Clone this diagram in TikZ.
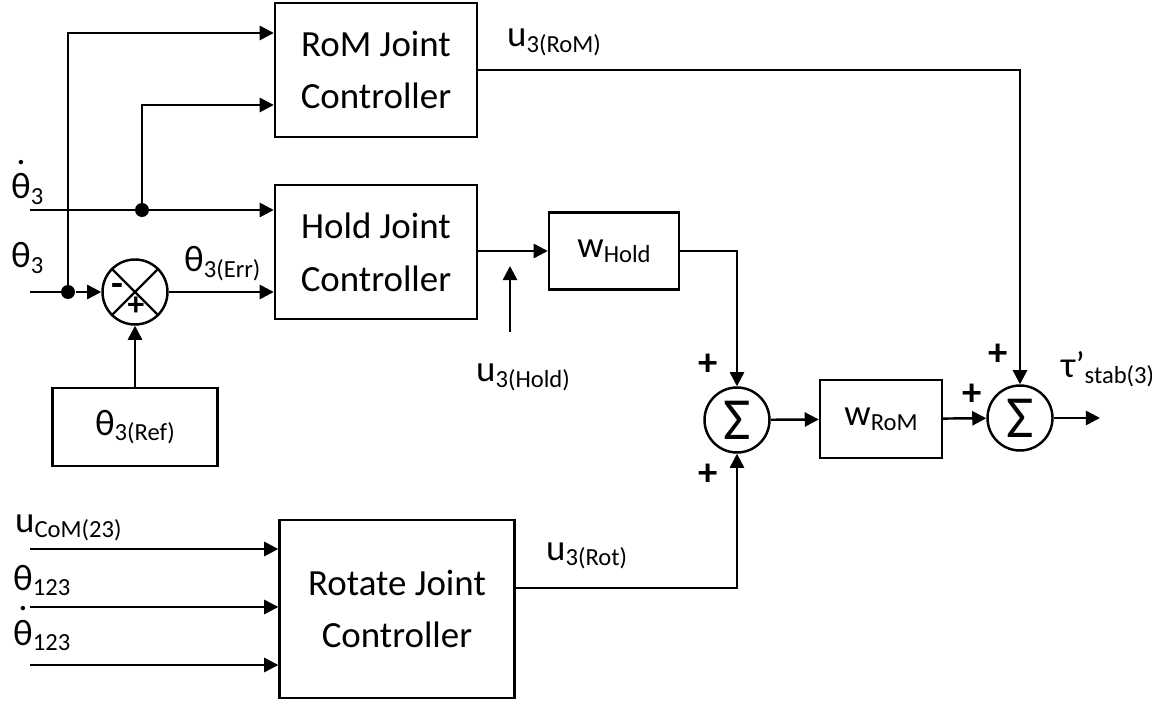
\documentclass[tikz,border=0pt]{standalone}
\usepackage{fontspec}
\setmainfont{Carlito}
\usetikzlibrary{arrows.meta}

\newcommand{\sbs}[1]{\raisebox{-0.14em}{\fontsize{14}{14}\selectfont #1}}
\newcommand{\thdot}{\ooalign{θ\cr\hidewidth\raisebox{0.93em}{.}\hidewidth\cr}}

\begin{document}
\begin{tikzpicture}[
  x=0.02cm, y=-0.02cm, line width=1.4pt,
  >={Triangle[length=8pt, width=8pt]},
  block/.style={rectangle, draw=black, line width=1.4pt, align=center, inner sep=0pt, font=\fontsize{21}{30}\selectfont},
  summer/.style={circle, draw=black, line width=1.4pt, minimum size=1.3cm, inner sep=0pt, font=\fontsize{34}{34}\selectfont},
  junc/.style={circle, fill=black, inner sep=0pt, minimum size=0.28cm},
  lbl/.style={anchor=base west, inner sep=0pt, font=\fontsize{21}{24}\selectfont},
  sgn/.style={inner sep=0pt, font=\fontsize{22}{22}\selectfont\bfseries}
]
\useasboundingbox (0,0) rectangle (1152,705);

% Joint controllers
\node[block, minimum width=4.04cm, minimum height=2.68cm] (rom) at (376,70) {RoM Joint\\Controller};
\node[block, minimum width=4.04cm, minimum height=2.68cm] (hold) at (376,252) {Hold Joint\\Controller};
\node[block, minimum width=4.7cm, minimum height=3.56cm] (rot) at (397,609) {Rotate Joint\\Controller};

% Reference and error junction
\node[block, minimum width=3.3cm, minimum height=1.56cm] (ref) at (135,427) {θ\sbs{3(Ref)}};
\node[summer] (err) at (135,292) {};
\draw[line width=1.4pt] (err.45) -- (err.225) (err.135) -- (err.-45);
\node[sgn] (errminus) at (117,290) {-};
\node[sgn, font=\fontsize{19}{19}\selectfont\bfseries] (errplus) at (136,306) {+};

% Weights and sums
\node[block, minimum width=2.6cm, minimum height=1.54cm] (whold) at (614,251) {w\sbs{Hold}};
\node[summer] (sum1) at (737,420) {Σ};
\node[block, minimum width=2.44cm, minimum height=1.56cm] (wrom) at (881,419) {w\sbs{RoM}};
\node[summer] (sum2) at (1020,418) {Σ};

% Branch points
\node[junc] (j1) at (68,292) {};
\node[junc] (j2) at (142,210) {};

% Free ends
\coordinate (thd) at (30,210);
\coordinate (th) at (30,292);
\coordinate (uhold) at (510,332);
\coordinate (uholdtip) at (510,266);
\coordinate (tauend) at (1100,418);

% Inputs to Hold and RoM
\draw (th) -- (j1.center);
\draw[->] (j1) -- (err);
\draw[->] (j1.center) |- ([yshift=0.74cm]rom.west);
\draw (thd) -- (j2.center);
\draw[->] (j2.center) -- (hold.west |- j2);
\draw[->] (j2.center) |- ([yshift=-0.7cm]rom.west);
\draw[->] (err) -- (hold.west |- err);
\draw[->] (ref) -- (err);

% Hold branch
\draw[->] (hold.east |- whold.west) -- (whold.west);
\draw[->] (uhold) -- (uholdtip);
\draw[->] (whold.east) -| (sum1.north);

% Rotate branch
\foreach \y/\n in {549/1, 607/2, 665/3}{
  \coordinate (in\n) at (30,\y);
  \draw[->] (in\n) -- (rot.west |- in\n);
}
\draw[->] ([yshift=0.42cm]rot.east) -| (sum1.south);

% Output path
\draw[->] (sum1) -- (wrom);
\draw[->] (wrom) -- (sum2);
\draw[->] (rom.east) -| (sum2.north);
\draw[->] (sum2) -- (tauend);

% Labels
\node[lbl] at (10,199) {\thdot\sbs{3}};
\node[lbl] at (10,268) {θ\sbs{3}};
\node[lbl] at (183,272) {θ\sbs{3(Err)}};
\node[lbl] at (506,47) {u\sbs{3(RoM)}};
\node[lbl] at (475,382) {u\sbs{3(Hold)}};
\node[lbl] at (545,560) {u\sbs{3(Rot)}};
\node[lbl] at (14,532) {u\sbs{CoM(23)}};
\node[lbl] at (12,590) {θ\sbs{123}};
\node[lbl] at (12,645) {\thdot\sbs{123}};
\node[lbl] at (1060,378) {τ’\sbs{stab(3)}};
\node[sgn] at (708,365) {+};
\node[sgn] at (708,475) {+};
\node[sgn] at (972,395) {+};
\node[sgn] at (998,355) {+};

\end{tikzpicture}
\end{document}
